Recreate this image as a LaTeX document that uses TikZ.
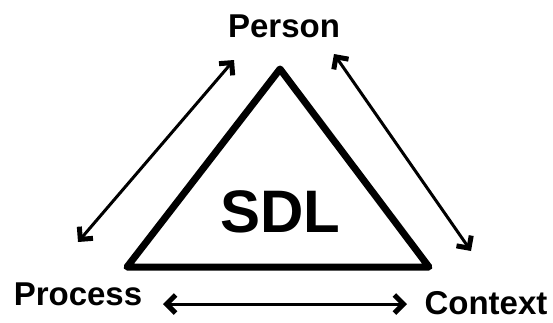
\documentclass[tikz,border=0pt]{standalone}
\usepackage{fontspec}
\setmainfont{Liberation Sans}
\usetikzlibrary{arrows.meta}
\begin{document}
\begin{tikzpicture}[x=1pt,y=-1pt,
  lbl/.style={font=\fontsize{33}{36}\selectfont\bfseries, anchor=base, inner sep=0pt},
  tri/.style={line width=7pt, line join=round, line cap=round},
  barb/.tip={Straight Barb[length=9pt,width=18pt,line width=5pt]},
  link/.style={line width=3pt, barb-barb}]
\useasboundingbox (0,0) rectangle (553,322);
\coordinate (apex) at (280,69);
\coordinate (bl) at (127,267);
\coordinate (br) at (429,267);
\draw[tri] (apex) -- (br) -- (bl) -- cycle;
\node[lbl] (person) at (284,37) {Person};
\node[lbl] (process) at (78,305) {Process};
\node[lbl] (context) at (486,314) {Context};
\node[font=\fontsize{60}{66}\selectfont\bfseries, anchor=base, inner sep=0pt] (sdl) at (280,232) {SDL};
\coordinate (a1) at (234,60);
\coordinate (a2) at (78,242);
\coordinate (b1) at (334,54);
\coordinate (b2) at (471,251);
\coordinate (c1) at (163,304);
\coordinate (c2) at (407,304);
\draw[link] (a1) -- (a2);
\draw[link] (b1) -- (b2);
\draw[link] (c1) -- (c2);
\end{tikzpicture}
\end{document}
